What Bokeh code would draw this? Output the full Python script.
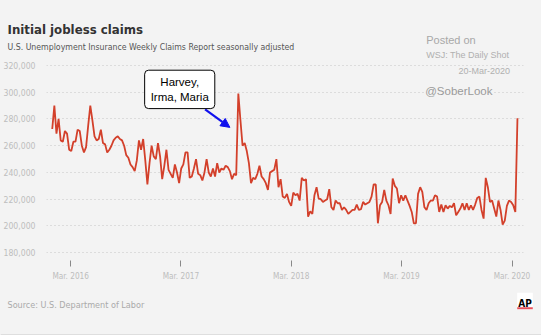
import pandas as pd
from bokeh.plotting import figure
from bokeh.layouts import column
from bokeh.models import (Range1d, FixedTicker, NumeralTickFormatter, Label, Arrow,
                          NormalHead, BoxAnnotation, ColumnDataSource)
from bokeh.embed import file_html
from bokeh.resources import INLINE

# ---- data (weekly initial claims, thousands) ----
claims_2016_2018 = [272.5, 290, 269, 280, 264, 263, 271, 269, 257, 256, 263,
                    263, 272, 271, 260, 255, 259, 275, 290, 279, 267,
                    264, 265, 272, 262, 261, 255, 257, 260, 264, 266, 267,
                    265, 264, 260, 253, 251, 246, 244, 241, 249, 264, 257,
                    265, 249, 231, 247, 260, 252, 250, 262, 252, 235,
                    245, 257, 242, 239, 236, 246, 240, 232, 243, 246, 255,
                    255, 236, 237, 243, 250, 239, 238, 234, 240, 250,
                    240, 237, 243, 237, 247, 240, 243, 242, 245, 244, 241,
                    235, 239, 238, 299, 279, 260, 262, 256, 247, 232,
                    236, 235, 239, 245, 237, 235, 232, 227, 240, 241,
                    242, 250, 229, 235, 222, 221, 224, 218, 215]
claims_2018_2020 = [225, 223, 224, 219, 236, 234, 235, 207, 211, 209,
                    223, 229, 220.5, 220, 218, 219, 220, 227.5, 214, 212,
                    219, 217, 217, 212, 214, 212, 209, 210.5, 212, 212,
                    216, 212, 212.5, 218, 216, 217, 218, 222, 231, 231,
                    202, 215.5, 218, 227, 219, 215.5, 209, 235.5, 230, 228,
                    217, 223, 219, 223, 219, 215, 210.5, 202, 202, 224,
                    229, 225.5, 214, 212, 217, 219, 219, 223, 222,
                    210.5, 216, 210.5, 215.5, 213, 215, 214, 217, 208,
                    210.5, 213, 217, 212, 217, 212, 215.5, 212, 216, 221,
                    222, 212, 205.5, 236, 229, 218, 219, 213, 207, 219,
                    212, 201, 204, 215, 219, 218, 215.5, 210.5,
                    280.5]
last_report_date = "2020-03-19"

y_ticks = [180000, 200000, 220000, 240000, 260000, 280000, 300000, 320000]
x_tick_dates = ["2016-03-01", "2017-03-01", "2018-03-01", "2019-03-01", "2020-03-01"]
x_tick_labels = ["Mar. 2016", "Mar. 2017", "Mar. 2018", "Mar. 2019", "Mar. 2020"]

claims = [v * 1000 for v in claims_2016_2018 + claims_2018_2020]
dates = pd.date_range(end=last_report_date, periods=len(claims), freq="7D")
source = ColumnDataSource(dict(date=dates, claims=claims))

# ---- layout constants ----
W = 541
HEAD_H, MAIN_H, FOOT_H = 60, 226, 49
FL, FR = 44, 523
FB = 260  # frame bottom (page coordinates)
BG = "#f3f3f3"
NARROW = "DejaVu Sans Condensed"
SANS = "Liberation Sans"


def no_align(f):
    try:
        f.frame_align = False
    except AttributeError:
        pass


def blank(height, top):
    f = figure(width=W, height=height, x_range=Range1d(0, W),
               y_range=Range1d(top + height, top), toolbar_location=None,
               output_backend="svg", min_border=0, x_axis_location=None,
               y_axis_location=None, background_fill_color=BG, border_fill_color=BG)
    f.grid.visible = False
    f.outline_line_color = None
    no_align(f)
    return f


def txt(f, text, x, y, size, color, font=SANS, style="normal", align="left"):
    f.add_layout(Label(x=x, y=y, text=text, text_font=font, text_font_size=size,
                       text_color=color, text_font_style=style, text_align=align,
                       text_baseline="alphabetic"))


# ---- header ----
head = blank(HEAD_H, 0)
txt(head, "Initial jobless claims", 7, 28.5, "13.1px", "#333333", font=NARROW, style="bold")
txt(head, "U.S. Unemployment Insurance Weekly Claims Report seasonally adjusted", 7, 46.7,
    "8.7px", "#555555", font=NARROW)
txt(head, "Posted on", 425.7, 39.3, "11px", "#a8a8a8")
txt(head, "WSJ: The Daily Shot", 425.7, 54.3, "9px", "#b0b0b0")

# ---- main chart ----
p = figure(width=W, height=MAIN_H, x_axis_type="datetime",
           x_range=Range1d(pd.Timestamp("2015-12-12"), pd.Timestamp("2020-04-08")),
           y_range=Range1d(174200, 323700),
           output_backend="svg", toolbar_location=None,
           min_border_left=FL, min_border_right=W - FR,
           min_border_top=0, min_border_bottom=MAIN_H - (FB - HEAD_H),
           background_fill_color=BG, border_fill_color=BG)
p.outline_line_color = None
no_align(p)

p.yaxis.ticker = FixedTicker(ticks=y_ticks)
p.yaxis.formatter = NumeralTickFormatter(format="0,0")
p.yaxis.axis_line_color = None
p.yaxis.major_tick_line_color = None
p.yaxis.minor_tick_line_color = None
p.yaxis.major_label_text_font = NARROW
p.yaxis.major_label_text_font_size = "8.6px"
p.yaxis.major_label_text_color = "#bdbdbd"
p.yaxis.major_label_standoff = 5

x_ticks = [int(pd.Timestamp(d).value // 10**6) for d in x_tick_dates]
p.xaxis.ticker = FixedTicker(ticks=x_ticks)
p.xaxis.major_label_overrides = {t: l for t, l in zip(x_ticks, x_tick_labels)}
p.xaxis.axis_line_color = None
p.xaxis.major_tick_in = 0
p.xaxis.major_tick_out = 6
p.xaxis.major_tick_line_color = "#888888"
p.xaxis.minor_tick_line_color = None
p.xaxis.major_label_text_font = NARROW
p.xaxis.major_label_text_font_size = "8.2px"
p.xaxis.major_label_text_color = "#bdbdbd"
p.xaxis.major_label_standoff = 4

p.xgrid.grid_line_color = None
p.ygrid.ticker = FixedTicker(ticks=y_ticks)
p.ygrid.grid_line_color = "#c4c4c4"
p.ygrid.grid_line_dash = "1 3"
p.ygrid.grid_line_width = 1

p.line(x="date", y="claims", source=source, line_color="#d3402b", line_width=1.8)


def sx(px):
    return px - FL


def sy(py):
    return FB - py


for text, x, y, size, color, align in [("20-Mar-2020", 507.5, 70.7, "9px", "#b0b0b0", "right"),
                                       ("@SoberLook", 422.7, 90, "11.5px", "#9a9a9a", "left")]:
    p.add_layout(Label(x=sx(x), y=sy(y), x_units="screen", y_units="screen", text=text,
                       text_font=SANS, text_font_size=size, text_color=color,
                       text_align=align, text_baseline="alphabetic",
                       background_fill_color=BG))

p.add_layout(Arrow(x_start=pd.Timestamp("2017-05-20"), y_start=287100,
                   x_end=pd.Timestamp("2017-08-10"), y_end=273700,
                   line_color="#1010ee", line_width=2.2,
                   end=NormalHead(size=9, fill_color="#1010ee", line_color="#1010ee")))
p.add_layout(Label(x=pd.Timestamp("2017-02-25"), y=302100, text="Harvey,\nIrma, Maria",
                   text_font=SANS, text_font_size="11.5px", text_color="black",
                   text_align="center", text_baseline="middle",
                   background_fill_color="white", border_line_color="black",
                   border_line_width=1, border_radius=4, padding=6))

# ---- footer ----
foot = blank(FOOT_H, HEAD_H + MAIN_H)
txt(foot, "Source: U.S. Department of Labor", 7, 304.5, "9px", "#aaaaaa", font=NARROW)
foot.add_layout(BoxAnnotation(left=516.7, right=532.3, top=292.3, bottom=309.3,
                              fill_color="#ffffff", fill_alpha=1, line_color=None))
foot.add_layout(BoxAnnotation(left=516.7, right=532.3, top=306.7, bottom=308.7,
                              fill_color="#e8505b", fill_alpha=1, line_color=None))
foot.add_layout(BoxAnnotation(left=0, right=W, top=333.5, bottom=335,
                              fill_color="#dedede", fill_alpha=1, line_color=None))
txt(foot, "AP", 524.5, 303.3, "10px", "#000000", font=NARROW, style="bold", align="center")

layout = column(head, p, foot, spacing=0, styles={"background-color": BG})
open("out.html", "w").write(file_html(layout, INLINE))
